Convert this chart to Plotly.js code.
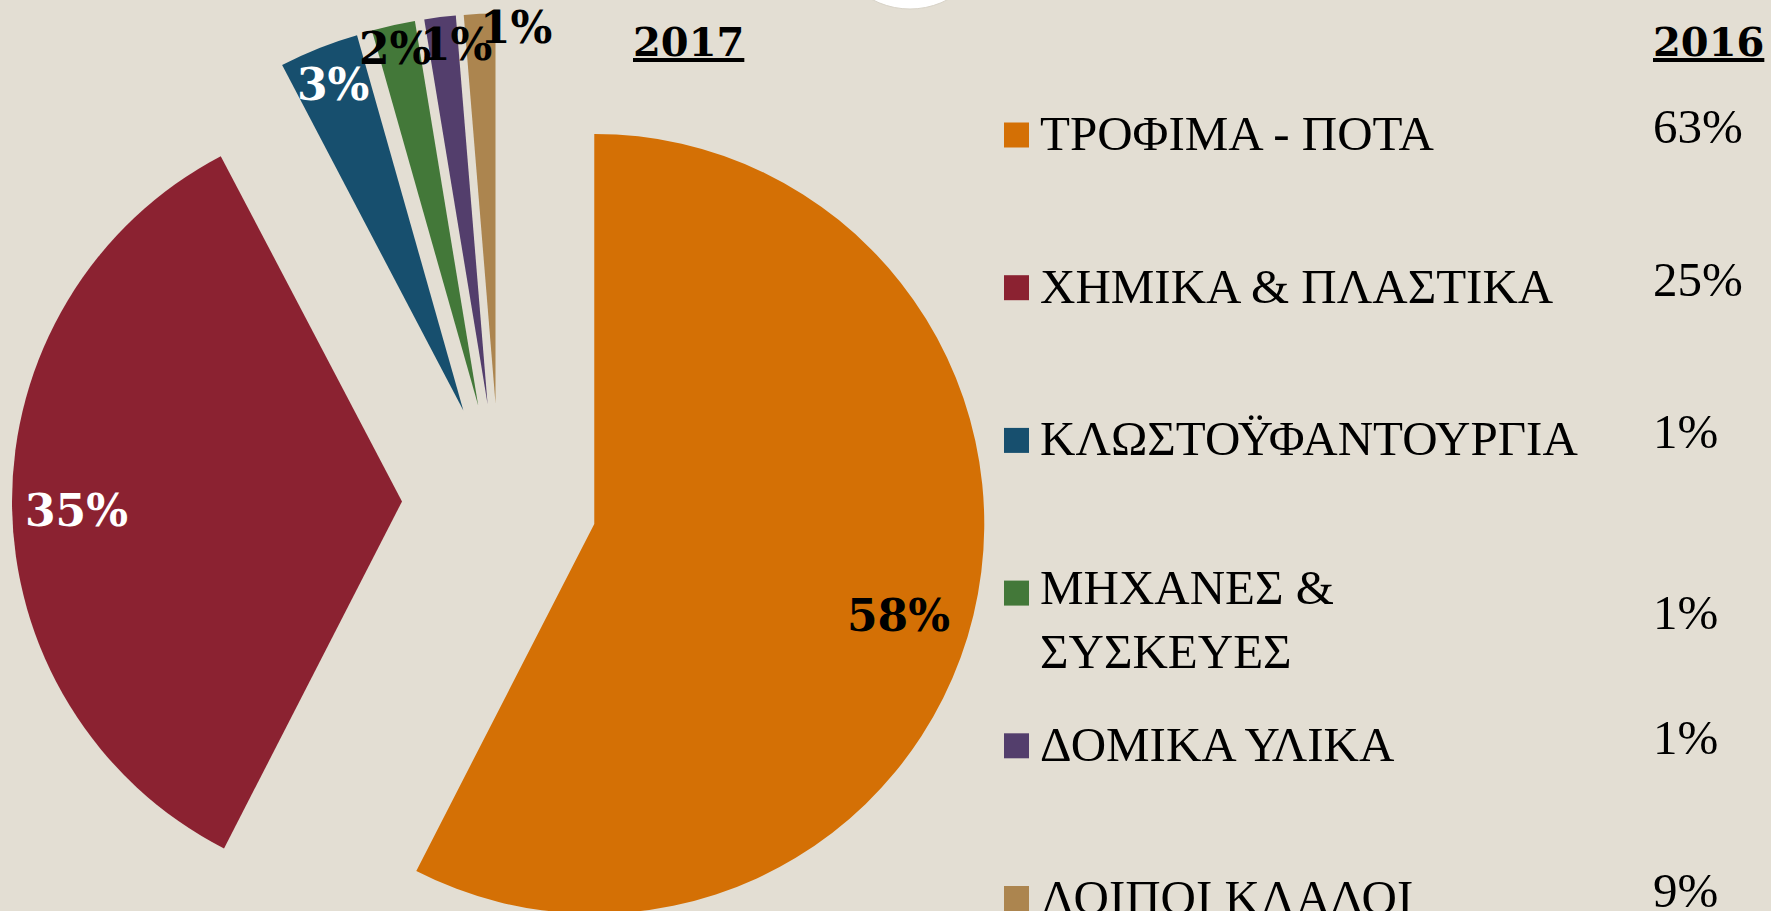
<!DOCTYPE html>
<html><head><meta charset="utf-8">
<script src="https://cdn.plot.ly/plotly-3.0.1.min.js"></script>
<style>html,body{margin:0;padding:0;overflow:hidden;background:#E3DED3}</style>
</head><body><div id="chart"></div>
<script>
// ---- data ----
const categories = ['ΤΡΟΦΙΜΑ - ΠΟΤΑ', 'ΧΗΜΙΚΑ & ΠΛΑΣΤΙΚΑ', 'ΚΛΩΣΤΟΫΦΑΝΤΟΥΡΓΙΑ', 'ΜΗΧΑΝΕΣ & ΣΥΣΚΕΥΕΣ', 'ΔΟΜΙΚΑ ΥΛΙΚΑ', 'ΛΟΙΠΟΙ ΚΛΑΔΟΙ'];
const legendLabels = ['ΤΡΟΦΙΜΑ - ΠΟΤΑ', 'ΧΗΜΙΚΑ & ΠΛΑΣΤΙΚΑ', 'ΚΛΩΣΤΟΫΦΑΝΤΟΥΡΓΙΑ', 'ΜΗΧΑΝΕΣ &<br>ΣΥΣΚΕΥΕΣ', 'ΔΟΜΙΚΑ ΥΛΙΚΑ', 'ΛΟΙΠΟΙ ΚΛΑΔΟΙ'];
// 2017 shares (labels show them rounded)
const values2017 = [57.6, 34.8, 3.3, 1.8, 1.3, 1.3];
const values2016 = [63, 25, 1, 1, 1, 9];
const title2017 = '2017';
const title2016 = '2016';

// ---- styles ----
const sliceColors = ['#D47005', '#8B2231', '#174F6E', '#437839', '#533E6C', '#AC854F'];
const labelColors = ['#000000', '#FFFFFF', '#FFFFFF', '#000000', '#000000', '#000000'];
const labelRadius = [0.815, 0.835, 0.90, 0.94, 0.925, 0.965];   // fraction of radius
const labelAngleNudge = [2.4, -1, 0, -0.4, 1.6, 4.3];          // degrees, label placement only
const bg = '#E3DED3';
const W = 1771, H = 1000;
const cx = 499.5, cy = 501, R = 390, pull = 0.25;
const box = 2 * R * (1 + pull);
const pctFont = {family: 'DejaVu Serif', size: 44, weight: 'bold'};
const legFont = {family: 'Liberation Serif', size: 49, color: '#000'};

const px = x => x / W;
const py = y => 1 - y / H;

const trace = {
  type: 'pie',
  labels: categories,
  values: values2017,
  sort: false,
  direction: 'clockwise',
  rotation: 0,
  pull: values2017.map(() => pull),
  marker: {colors: sliceColors, line: {width: 0}},
  textinfo: 'none',
  domain: {x: [px(cx - box / 2), px(cx + box / 2)], y: [py(cy + box / 2), py(cy - box / 2)]},
  showlegend: false,
  hoverinfo: 'label+percent'
};

const annotations = [];
// percentage labels placed along each slice's mid angle, near its outer end
const total = values2017.reduce((a, b) => a + b, 0);
let cum = 0;
values2017.forEach((v, i) => {
  const share = v / total;
  const mid = 2 * Math.PI * (cum + v / 2) / total + labelAngleNudge[i] * Math.PI / 180;
  cum += v;
  const d = R * pull + R * labelRadius[i];
  annotations.push({
    xref: 'paper', yref: 'paper',
    x: px(cx + d * Math.sin(mid)), y: py(cy - d * Math.cos(mid)),
    xanchor: 'center', yanchor: 'middle', showarrow: false,
    text: Math.round(share * 100) + '%', font: Object.assign({}, pctFont, {color: labelColors[i]})
  });
});

// year headers
annotations.push({xref: 'paper', yref: 'paper', x: px(688), y: py(41), xanchor: 'center', yanchor: 'middle',
  showarrow: false, text: '<u>' + title2017 + '</u>', font: {family: 'DejaVu Serif', size: 40, weight: 'bold', color: '#000'}});
annotations.push({xref: 'paper', yref: 'paper', x: px(1651), y: py(41), xanchor: 'left', yanchor: 'middle',
  showarrow: false, text: '<u>' + title2016 + '</u>', font: {family: 'DejaVu Serif', size: 40, weight: 'bold', color: '#000'}});

// legend table with 2016 shares
const shapes = [];
const rowStart = 133.5, rowStep = 152.7, lineGap = 56;
legendLabels.forEach((lab, i) => {
  const nLines = lab.split('<br>').length;
  const firstLine = rowStart + rowStep * i;
  const blockMid = firstLine + (nLines - 1) * lineGap / 2;
  annotations.push({xref: 'paper', yref: 'paper', x: px(1038), y: py(blockMid), xanchor: 'left', yanchor: 'middle',
    showarrow: false, align: 'left', text: lab, font: legFont});
  annotations.push({xref: 'paper', yref: 'paper', x: px(1651), y: py(blockMid - 7), xanchor: 'left', yanchor: 'middle',
    showarrow: false, text: values2016[i] + '%', font: legFont});
  const sq = firstLine + 1.5;
  shapes.push({type: 'rect', xref: 'paper', yref: 'paper', x0: px(1004), x1: px(1029), y0: py(sq + 12.5), y1: py(sq - 12.5),
    fillcolor: sliceColors[i], line: {width: 0}});
});
// decorative slide circle at the top edge
shapes.push({type: 'circle', xref: 'paper', yref: 'paper', x0: px(910 - 80.5), x1: px(910 + 80.5), y0: py(9), y1: py(-152),
  fillcolor: '#FFFFFF', line: {color: '#D8D3C8', width: 1}, layer: 'below'});

const layout = {
  width: W, height: H,
  margin: {l: 0, r: 0, t: 0, b: 0},
  paper_bgcolor: bg, plot_bgcolor: bg,
  showlegend: false,
  annotations: annotations,
  shapes: shapes
};
Plotly.newPlot('chart', [trace], layout, {displayModeBar: false, staticPlot: true});
</script></body></html>
